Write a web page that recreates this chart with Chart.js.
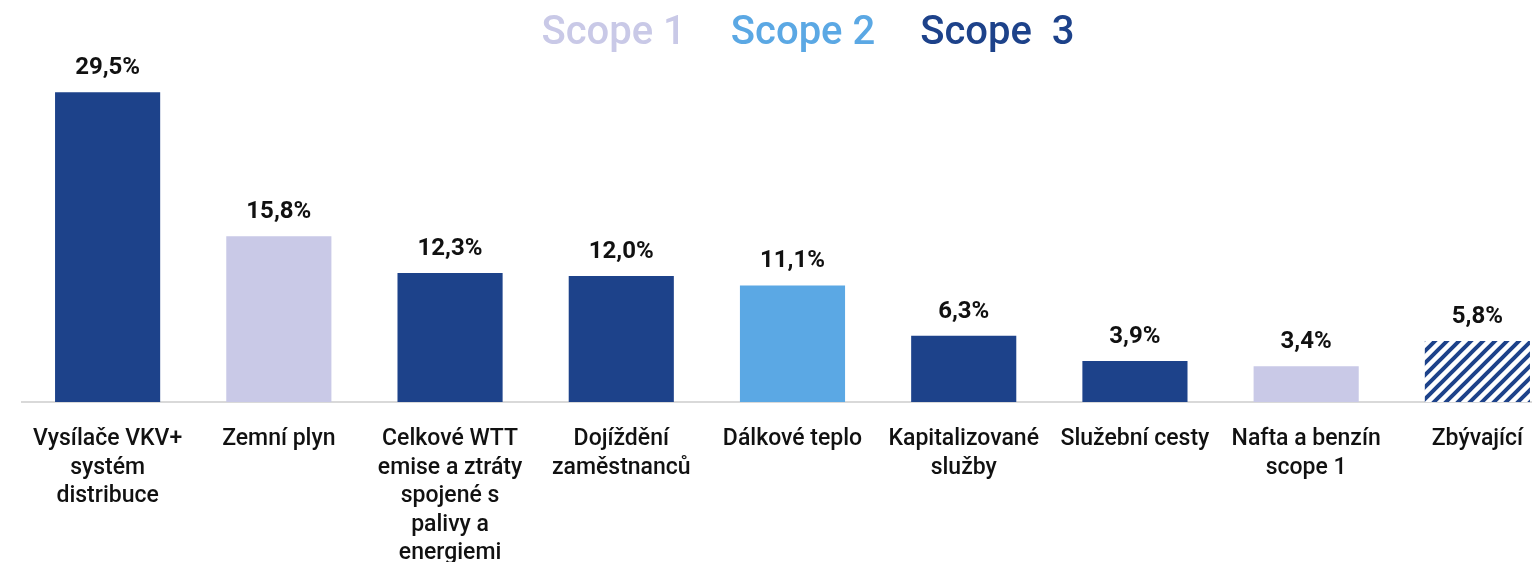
<!DOCTYPE html>
<html>
<head>
<meta charset="utf-8">
<script src="https://cdn.jsdelivr.net/npm/chart.js@4"></script>
<style>
  html, body { margin: 0; padding: 0; background: #fff; overflow: hidden; }
  #wrap { width: 1563px; height: 562px; }
</style>
</head>
<body>
<div id="wrap"><canvas id="myChart" width="1563" height="562"></canvas></div>
<script>
const categories = [
  ['Vysílače VKV+', 'systém', 'distribuce'],
  'Zemní plyn',
  ['Celkové WTT', 'emise a ztráty', 'spojené s', 'palivy a', 'energiemi'],
  ['Dojíždění', 'zaměstnanců'],
  'Dálkové teplo',
  ['Kapitalizované', 'služby'],
  'Služební cesty',
  ['Nafta a benzín', 'scope 1'],
  'Zbývající'
];
const shares = [29.5, 15.8, 12.3, 12.0, 11.1, 6.3, 3.9, 3.4, 5.8];
const scopeOfBar = ['Scope 3', 'Scope 1', 'Scope 3', 'Scope 3', 'Scope 2', 'Scope 3', 'Scope 3', 'Scope 1', 'other'];
const scopeNames = ['Scope 1', 'Scope 2', 'Scope  3'];

const navy = '#1d428a';
const scopeColors = { 'Scope 1': '#c9c9e7', 'Scope 2': '#5ba8e4', 'Scope 3': navy };

// diagonal stripes for the "Zbývající" bar
function stripes() {
  const s = 12;
  const c = document.createElement('canvas');
  c.width = s; c.height = s;
  const g = c.getContext('2d');
  g.fillStyle = '#fff';
  g.fillRect(0, 0, s, s);
  g.strokeStyle = navy;
  g.lineWidth = 4;
  g.beginPath();
  g.moveTo(0, s); g.lineTo(s, 0);
  g.moveTo(-3, 3); g.lineTo(3, -3);
  g.moveTo(s - 3, s + 3); g.lineTo(s + 3, s - 3);
  g.stroke();
  return g.createPattern(c, 'repeat');
}
const hatch = stripes();
const barColors = scopeOfBar.map(s => scopeColors[s] || hatch);

const valueLabels = {
  id: 'valueLabels',
  afterDatasetsDraw(chart) {
    const ctx = chart.ctx;
    const meta = chart.getDatasetMeta(0);
    ctx.save();
    ctx.font = 'bold 24px Roboto';
    ctx.fillStyle = '#111';
    ctx.textAlign = 'center';
    ctx.textBaseline = 'bottom';
    meta.data.forEach((bar, i) => {
      ctx.fillText(shares[i].toFixed(1).replace('.', ',') + '%', bar.x, bar.y - 12);
    });
    ctx.restore();
  }
};

new Chart(document.getElementById('myChart'), {
  type: 'bar',
  data: {
    labels: categories,
    datasets: [{
      data: shares,
      backgroundColor: barColors,
      barPercentage: 0.614,
      categoryPercentage: 1
    }]
  },
  options: {
    responsive: false,
    animation: false,
    layout: { padding: { left: 22, right: 0, top: 0, bottom: 0 } },
    plugins: {
      tooltip: { enabled: false },
      legend: {
        position: 'top',
        onClick: null,
        labels: {
          font: { family: 'Roboto', size: 40, weight: '500' },
          boxWidth: 11,
          boxHeight: 20,
          padding: 14,
          generateLabels: () => scopeNames.map((name, i) => ({
            text: name,
            fontColor: scopeColors[name.replace('  ', ' ')],
            fillStyle: 'rgba(0,0,0,0)',
            strokeStyle: 'rgba(0,0,0,0)',
            lineWidth: 0,
            hidden: false,
            datasetIndex: 0,
            index: i
          }))
        }
      }
    },
    scales: {
      x: {
        grid: { display: false },
        border: { display: true, color: '#d9d9d9', width: 2 },
        ticks: {
          color: '#111',
          font: { family: 'Roboto', size: 23, weight: '500', lineHeight: 1.24 },
          padding: 15,
          maxRotation: 0,
          autoSkip: false
        },
        afterFit: (scale) => { scale.height = 160; }
      },
      y: {
        display: false,
        min: 0,
        max: 32.2
      }
    }
  },
  plugins: [valueLabels]
});
</script>
</body>
</html>
